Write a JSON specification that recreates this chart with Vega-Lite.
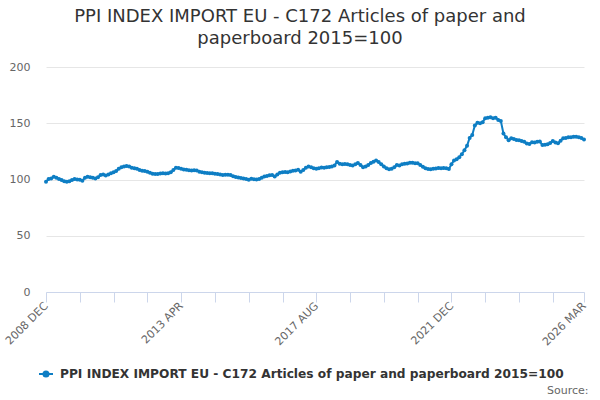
{
  "$schema": "https://vega.github.io/schema/vega-lite/v6.json",
  "width": 538,
  "height": 225,
  "autosize": {"type": "none"},
  "padding": {"left": 46, "top": 67, "right": 16, "bottom": 108},
  "background": "white",
  "config": {"font": "DejaVu Sans", "view": {"stroke": null}},
  "title": {
    "text": ["PPI INDEX IMPORT EU - C172 Articles of paper and", "paperboard 2015=100"],
    "fontSize": 18,
    "fontWeight": "normal",
    "color": "#333333",
    "anchor": "middle",
    "dx": -15,
    "offset": 13,
    "lineHeight": 22
  },
  "data": {"values": [
    {"date":"2008-12","value":98},
    {"date":"2009-01","value":100.5},{"date":"2009-02","value":101},{"date":"2009-03","value":102.5},{"date":"2009-04","value":101.5},{"date":"2009-05","value":100.5},{"date":"2009-06","value":99.5},{"date":"2009-07","value":98.5},{"date":"2009-08","value":98},{"date":"2009-09","value":98.5},{"date":"2009-10","value":99.5},{"date":"2009-11","value":100.5},{"date":"2009-12","value":100},
    {"date":"2010-01","value":99.8},{"date":"2010-02","value":99},{"date":"2010-03","value":101.5},{"date":"2010-04","value":102.5},{"date":"2010-05","value":102},{"date":"2010-06","value":101.5},{"date":"2010-07","value":101},{"date":"2010-08","value":102},{"date":"2010-09","value":104},{"date":"2010-10","value":104.5},{"date":"2010-11","value":103.5},{"date":"2010-12","value":104.5},
    {"date":"2011-01","value":105.5},{"date":"2011-02","value":106.5},{"date":"2011-03","value":107.5},{"date":"2011-04","value":109.5},{"date":"2011-05","value":111},{"date":"2011-06","value":111.5},{"date":"2011-07","value":112},{"date":"2011-08","value":111.5},{"date":"2011-09","value":110.5},{"date":"2011-10","value":110},{"date":"2011-11","value":109.5},{"date":"2011-12","value":108.5},
    {"date":"2012-01","value":107.8},{"date":"2012-02","value":107.5},{"date":"2012-03","value":107},{"date":"2012-04","value":106},{"date":"2012-05","value":105.2},{"date":"2012-06","value":105},{"date":"2012-07","value":105},{"date":"2012-08","value":105.3},{"date":"2012-09","value":105.6},{"date":"2012-10","value":105.4},{"date":"2012-11","value":105.6},{"date":"2012-12","value":106.5},
    {"date":"2013-01","value":108.5},{"date":"2013-02","value":110.5},{"date":"2013-03","value":110.3},{"date":"2013-04","value":109.5},{"date":"2013-05","value":109},{"date":"2013-06","value":108.6},{"date":"2013-07","value":108.3},{"date":"2013-08","value":108},{"date":"2013-09","value":108.2},{"date":"2013-10","value":108},{"date":"2013-11","value":107},{"date":"2013-12","value":106.5},
    {"date":"2014-01","value":106},{"date":"2014-02","value":105.8},{"date":"2014-03","value":105.6},{"date":"2014-04","value":105.5},{"date":"2014-05","value":105.2},{"date":"2014-06","value":105},{"date":"2014-07","value":104.5},{"date":"2014-08","value":104},{"date":"2014-09","value":104.2},{"date":"2014-10","value":104.3},{"date":"2014-11","value":104},{"date":"2014-12","value":103},
    {"date":"2015-01","value":102.3},{"date":"2015-02","value":101.8},{"date":"2015-03","value":101.4},{"date":"2015-04","value":101},{"date":"2015-05","value":100.4},{"date":"2015-06","value":99.8},{"date":"2015-07","value":100.7},{"date":"2015-08","value":100.3},{"date":"2015-09","value":100},{"date":"2015-10","value":100.4},{"date":"2015-11","value":101.5},{"date":"2015-12","value":102.7},
    {"date":"2016-01","value":103.2},{"date":"2016-02","value":103.8},{"date":"2016-03","value":104},{"date":"2016-04","value":102.7},{"date":"2016-05","value":104.5},{"date":"2016-06","value":106},{"date":"2016-07","value":106.5},{"date":"2016-08","value":106.7},{"date":"2016-09","value":106.5},{"date":"2016-10","value":107.2},{"date":"2016-11","value":107.7},{"date":"2016-12","value":108},
    {"date":"2017-01","value":108.6},{"date":"2017-02","value":107},{"date":"2017-03","value":108.5},{"date":"2017-04","value":110.5},{"date":"2017-05","value":111.5},{"date":"2017-06","value":110.8},{"date":"2017-07","value":110},{"date":"2017-08","value":109.5},{"date":"2017-09","value":110},{"date":"2017-10","value":110.7},{"date":"2017-11","value":110.5},{"date":"2017-12","value":110.8},
    {"date":"2018-01","value":111.2},{"date":"2018-02","value":111.6},{"date":"2018-03","value":112.5},{"date":"2018-04","value":115.5},{"date":"2018-05","value":114},{"date":"2018-06","value":113.6},{"date":"2018-07","value":113.8},{"date":"2018-08","value":113.5},{"date":"2018-09","value":113},{"date":"2018-10","value":112.5},{"date":"2018-11","value":113.5},{"date":"2018-12","value":114.6},
    {"date":"2019-01","value":113},{"date":"2019-02","value":111},{"date":"2019-03","value":111.5},{"date":"2019-04","value":113},{"date":"2019-05","value":114.6},{"date":"2019-06","value":115.8},{"date":"2019-07","value":117},{"date":"2019-08","value":115.5},{"date":"2019-09","value":113.5},{"date":"2019-10","value":111.5},{"date":"2019-11","value":110},{"date":"2019-12","value":109.2},
    {"date":"2020-01","value":109.5},{"date":"2020-02","value":111},{"date":"2020-03","value":113},{"date":"2020-04","value":112.5},{"date":"2020-05","value":113.5},{"date":"2020-06","value":114},{"date":"2020-07","value":114.2},{"date":"2020-08","value":114.8},{"date":"2020-09","value":115},{"date":"2020-10","value":114.5},{"date":"2020-11","value":114.4},{"date":"2020-12","value":113},
    {"date":"2021-01","value":111.4},{"date":"2021-02","value":110},{"date":"2021-03","value":109.3},{"date":"2021-04","value":109.2},{"date":"2021-05","value":109.5},{"date":"2021-06","value":109.8},{"date":"2021-07","value":110.2},{"date":"2021-08","value":110},{"date":"2021-09","value":110.3},{"date":"2021-10","value":110},{"date":"2021-11","value":109.3},{"date":"2021-12","value":113.5},
    {"date":"2022-01","value":117},{"date":"2022-02","value":118},{"date":"2022-03","value":119.7},{"date":"2022-04","value":122.5},{"date":"2022-05","value":126},{"date":"2022-06","value":130},{"date":"2022-07","value":137},{"date":"2022-08","value":139.6},{"date":"2022-09","value":148},{"date":"2022-10","value":150.5},{"date":"2022-11","value":150},{"date":"2022-12","value":151},
    {"date":"2023-01","value":154.5},{"date":"2023-02","value":155},{"date":"2023-03","value":155.3},{"date":"2023-04","value":154.5},{"date":"2023-05","value":155},{"date":"2023-06","value":153},{"date":"2023-07","value":152},{"date":"2023-08","value":141},{"date":"2023-09","value":137.5},{"date":"2023-10","value":135},{"date":"2023-11","value":136.6},{"date":"2023-12","value":136},
    {"date":"2024-01","value":135.1},{"date":"2024-02","value":134.8},{"date":"2024-03","value":134.2},{"date":"2024-04","value":133.5},{"date":"2024-05","value":132},{"date":"2024-06","value":131.6},{"date":"2024-07","value":133.1},{"date":"2024-08","value":133},{"date":"2024-09","value":133.5},{"date":"2024-10","value":133.7},{"date":"2024-11","value":130.7},{"date":"2024-12","value":131},
    {"date":"2025-01","value":131.3},{"date":"2025-02","value":132.5},{"date":"2025-03","value":134.2},{"date":"2025-04","value":133},{"date":"2025-05","value":132.2},{"date":"2025-06","value":134.5},{"date":"2025-07","value":136.6},{"date":"2025-08","value":137},{"date":"2025-09","value":137.5},{"date":"2025-10","value":137.5},{"date":"2025-11","value":138},{"date":"2025-12","value":138.1},
    {"date":"2026-01","value":137.5},{"date":"2026-02","value":137},{"date":"2026-03","value":135.5}
  ]},
  "mark": {"type": "line", "strokeWidth": 2, "point": {"filled": true, "size": 16}},
  "encoding": {
    "x": {
      "field": "date",
      "type": "ordinal",
      "sort": null,
      "scale": {"type": "point", "padding": 0},
      "axis": {
        "values": ["2008-12","2010-01","2011-02","2012-03","2013-04","2014-05","2015-06","2016-07","2017-08","2018-09","2019-10","2020-11","2021-12","2023-01","2024-02","2025-03","2026-03"],
        "labelExpr": "indexof(['2008-12','2013-04','2017-08','2021-12','2026-03'], datum.value) >= 0 ? slice(datum.value,0,4) + ' ' + ['JAN','FEB','MAR','APR','MAY','JUN','JUL','AUG','SEP','OCT','NOV','DEC'][toNumber(slice(datum.value,5,7)) - 1] : ''",
        "labelAngle": -45,
        "labelAlign": "right",
        "labelBaseline": "middle",
        "labelFontSize": 11,
        "labelColor": "#666666",
        "labelPadding": 2,
        "labelOverlap": false,
        "labelBound": false,
        "labelFlush": false,
        "tickSize": 10,
        "tickColor": "#ccd6eb",
        "domainColor": "#ccd6eb",
        "grid": false,
        "title": "Source:",
        "titleX": 542,
        "titleY": 98,
        "titleAlign": "right",
        "titleAnchor": null,
        "titleBaseline": "middle",
        "titleFontSize": 11,
        "titleFontWeight": "normal",
        "titleColor": "#666666"
      }
    },
    "y": {
      "field": "value",
      "type": "quantitative",
      "scale": {"domain": [0, 200], "nice": false},
      "axis": {
        "values": [0, 50, 100, 150, 200],
        "title": null,
        "domain": false,
        "ticks": false,
        "labelPadding": 16,
        "labelFontSize": 11,
        "labelColor": "#666666",
        "gridColor": "#e6e6e6"
      }
    },
    "color": {
      "datum": "PPI INDEX IMPORT EU - C172 Articles of paper and paperboard 2015=100",
      "type": "nominal",
      "scale": {"range": ["#0e7ec4"]},
      "legend": {
        "orient": "none",
        "legendX": -8,
        "legendY": 299,
        "title": null,
        "symbolType": "M-1,0L1,0M0.36,0A0.36,0.36,0,1,1,-0.36,0A0.36,0.36,0,1,1,0.36,0Z",
        "symbolSize": 196,
        "symbolStrokeWidth": 2,
        "symbolFillColor": "#0e7ec4",
        "symbolStrokeColor": "#0e7ec4",
        "labelFontSize": 12.2,
        "labelFontWeight": "bold",
        "labelColor": "#333333",
        "labelLimit": 0,
        "labelOffset": 6
      }
    }
  }
}
